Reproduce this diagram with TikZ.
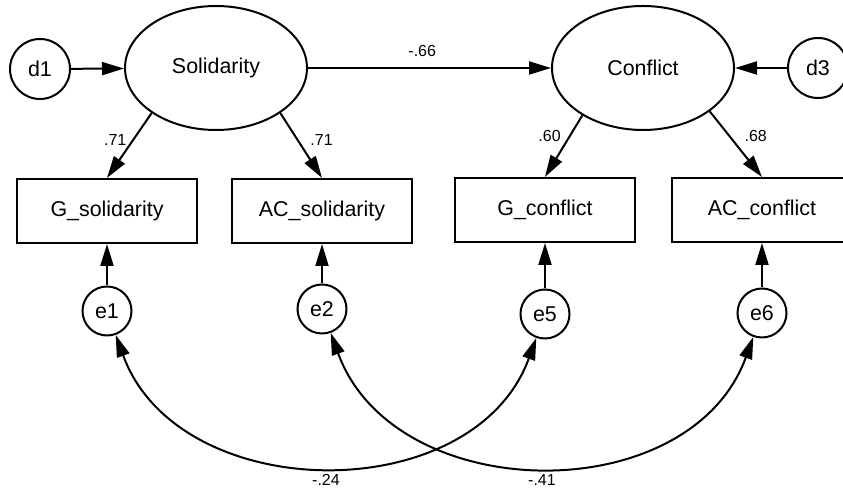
\documentclass[tikz,border=0pt]{standalone}
\usepackage{fontspec}
\setmainfont{Liberation Sans}
\usepackage{tikz}
\usetikzlibrary{positioning,shapes.geometric,arrows.meta}
\tikzset{
  latent/.style={ellipse,draw=black,line width=1pt,minimum width=91pt,minimum height=62pt,inner sep=0pt,font=\fontsize{10.7}{13}\selectfont},
  observed/.style={rectangle,draw=black,line width=1pt,minimum width=90pt,minimum height=32pt,inner sep=0pt,font=\fontsize{10.7}{13}\selectfont},
  resid/.style={circle,draw=black,line width=1pt,minimum size=24.5pt,inner sep=0pt,font=\fontsize{10.7}{13}\selectfont},
  path/.style={-{Triangle[length=11pt,width=6.5pt]},line width=1pt,draw=black},
  covar/.style={{Triangle[length=11pt,width=6.5pt]}-{Triangle[length=11pt,width=6.5pt]},line width=1pt,draw=black}
}

\begin{document}
\begin{tikzpicture}[
  x=0.5pt,y=0.5pt,
  disturb/.style={resid,minimum size=30pt},
  coef/.style={font=\fontsize{8}{9}\selectfont,inner sep=1pt}
]
\useasboundingbox (0,0) rectangle (843,-490);

\node[latent] (Sol) at (216,-68) {Solidarity};
\node[latent] (Con) at (643,-68) {Conflict};
\node[disturb] (d1) at (40,-69) {d1};
\node[disturb] (d3) at (818,-68) {d3};

\node[observed] (Gsol) at (107,-211) {G\_solidarity};
\node[observed] (ACsol) at (322,-211) {AC\_solidarity};
\node[observed] (Gcon) at (545,-210) {G\_conflict};
\node[observed] (ACcon) at (762,-210) {AC\_conflict};

\node[resid] (e1) at (107,-311) {e1};
\node[resid] (e2) at (322,-309) {e2};
\node[resid] (e5) at (545,-314) {e5};
\node[resid] (e6) at (762,-313) {e6};

\draw[path] (d1) -- (Sol);
\draw[path] (d3) -- (Con);
\draw[path] (Sol) -- node[coef,above=4pt,pos=.47]{-.66} (Con);

\draw[path] (Sol.215) -- node[coef,left=2pt,pos=.41]{.71} (Gsol.north);
\draw[path] (Sol.325) -- node[coef,right=5pt,pos=.41]{.71} (ACsol.north);
\draw[path] (Con.218) -- node[coef,left=3pt,pos=.34]{.60} (Gcon.north);
\draw[path] (Con.327) -- node[coef,right=6pt,pos=.38]{.68} (ACcon.north);

\draw[path] (e1) -- (Gsol);
\draw[path] (e2) -- (ACsol);
\draw[path] (e5) -- (Gcon);
\draw[path] (e6) -- (ACcon);

\draw[covar] (e1) to[out=-70,in=-110,looseness=1.11] node[coef,below=3pt]{-.24} (e5);
\draw[covar] (e2) to[out=-70,in=-110,looseness=1.12] node[coef,below=3pt]{-.41} (e6);
\end{tikzpicture}
\end{document}
